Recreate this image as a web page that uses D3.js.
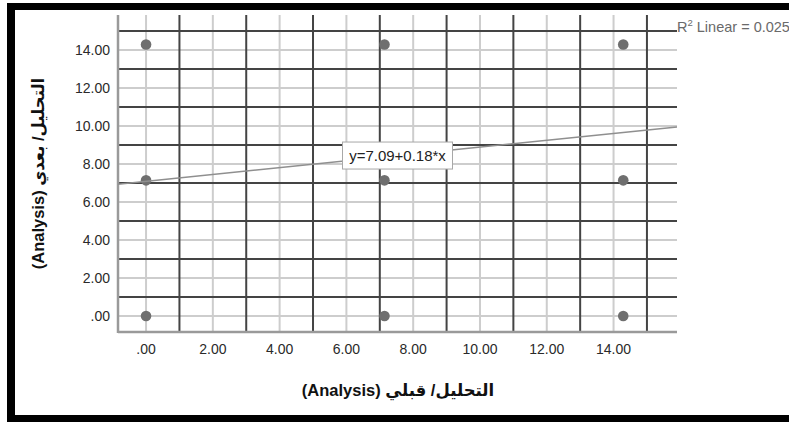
<!DOCTYPE html>
<html>
<head>
<meta charset="utf-8">
<script src="https://cdn.jsdelivr.net/npm/d3@7/dist/d3.min.js"></script>
<style>
  html, body { margin: 0; padding: 0; background: #fff; }
  svg { display: block; }
  text { font-family: "Liberation Sans", Arial, "DejaVu Sans", sans-serif; }
</style>
</head>
<body>
<svg id="chart" width="789" height="422"></svg>
<script>
// Scores before (x) and after (y) the analysis unit
const beforeScores = [0, 7.14, 14.29, 0, 7.14, 14.29, 0, 7.14, 14.29];
const afterScores  = [14.29, 14.29, 14.29, 7.14, 7.14, 7.14, 0, 0, 0];

// Fitted linear model
const intercept = 7.09;
const slope = 0.18;
const rSquared = 0.025;

// Axis ticks (labelled) and the in-between grid values
const tickValues = [0, 2, 4, 6, 8, 10, 12, 14];
const oddGridValues = [1, 3, 5, 7, 9, 11, 13, 15];

const xTitle = "التحليل/ قبلي (Analysis)";
const yTitle = "التحليل/ بعدي (Analysis)";

const svg = d3.select("#chart");

const plot = { left: 118, right: 677, top: 15, bottom: 332 };

const x = d3.scaleLinear().domain([-0.84, 15.9]).range([plot.left, plot.right]);
const y = d3.scaleLinear().domain([-0.84, 15.84]).range([plot.bottom, plot.top]);

const fmt = v => { const s = d3.format(".2f")(v); return s.startsWith("0.") ? s.slice(1) : s; };

// Frame
svg.append("rect").attr("x", 7).attr("y", 3).attr("width", 782).attr("height", 7).attr("fill", "#000");
svg.append("rect").attr("x", 7).attr("y", 3).attr("width", 8).attr("height", 419).attr("fill", "#000");
svg.append("rect").attr("x", 7).attr("y", 415).attr("width", 782).attr("height", 7).attr("fill", "#000");

const g = svg.append("g");

// Light grid at labelled values
g.selectAll(".vlight").data(tickValues).join("line")
  .attr("x1", d => x(d)).attr("x2", d => x(d))
  .attr("y1", plot.top).attr("y2", plot.bottom)
  .attr("stroke", "#cdcdcd").attr("stroke-width", 2);
g.selectAll(".hlight").data(tickValues).join("line")
  .attr("y1", d => y(d)).attr("y2", d => y(d))
  .attr("x1", plot.left).attr("x2", plot.right)
  .attr("stroke", "#cdcdcd").attr("stroke-width", 2);

// Dark grid at odd values
g.selectAll(".vdark").data(oddGridValues).join("line")
  .attr("x1", d => x(d)).attr("x2", d => x(d))
  .attr("y1", plot.top).attr("y2", plot.bottom)
  .attr("stroke", "#444").attr("stroke-width", 2);
g.selectAll(".hdark").data(oddGridValues).join("line")
  .attr("y1", d => y(d)).attr("y2", d => y(d))
  .attr("x1", plot.left).attr("x2", plot.right)
  .attr("stroke", "#444").attr("stroke-width", 2);

// Axis lines
g.append("line").attr("x1", plot.left).attr("x2", plot.left)
  .attr("y1", plot.top).attr("y2", plot.bottom + 1)
  .attr("stroke", "#9a9a9a").attr("stroke-width", 2.5);
g.append("line").attr("x1", plot.left).attr("x2", plot.right)
  .attr("y1", plot.bottom).attr("y2", plot.bottom)
  .attr("stroke", "#9a9a9a").attr("stroke-width", 2.5);

// Tick labels
g.selectAll(".ytick").data(tickValues).join("text")
  .attr("x", 110).attr("y", d => y(d)).attr("dy", "0.36em")
  .attr("text-anchor", "end").attr("font-size", 14).attr("fill", "#2a2a2a")
  .text(fmt);
g.selectAll(".xtick").data(tickValues).join("text")
  .attr("x", d => x(d)).attr("y", 354)
  .attr("text-anchor", "middle").attr("font-size", 14).attr("fill", "#2a2a2a")
  .text(fmt);

// Points
const pts = beforeScores.map((b, i) => ({ b, a: afterScores[i] }));
g.selectAll(".pt").data(pts).join("circle")
  .attr("cx", d => x(d.b)).attr("cy", d => y(d.a)).attr("r", 5.3)
  .attr("fill", "#6f6f6f");

// Fit line across the plot
const [x0, x1] = x.domain();
const fit = v => intercept + slope * v;
g.append("line")
  .attr("x1", x(x0)).attr("y1", y(fit(x0)))
  .attr("x2", x(x1)).attr("y2", y(fit(x1)))
  .attr("stroke", "#8f8f8f").attr("stroke-width", 1.5);

// Equation label at plot centre, on the line
const xm = x.invert((plot.left + plot.right) / 2);
const eq = `y=${intercept.toFixed(2)}+${slope.toFixed(2)}*x`;
const lab = g.append("g").attr("transform", `translate(${x(xm)},${y(fit(xm))})`);
lab.append("rect").attr("x", -55).attr("y", -13.5).attr("width", 110).attr("height", 27)
  .attr("fill", "#fff").attr("stroke", "#a8a8a8").attr("stroke-width", 1);
lab.append("text").attr("text-anchor", "middle").attr("dy", "0.36em")
  .attr("font-size", 15).attr("fill", "#222").text(eq);

// R squared note
const r2 = svg.append("text").attr("x", 677).attr("y", 32).attr("font-size", 14.5).attr("fill", "#6a6a6a");
r2.append("tspan").text("R");
r2.append("tspan").attr("font-size", 9.5).attr("dy", -6).text("2");
r2.append("tspan").attr("dy", 6).text(` Linear = ${rSquared.toFixed(3)}`);

// Axis titles
svg.append("text").attr("x", 398).attr("y", 396)
  .attr("text-anchor", "middle").attr("direction", "rtl").attr("unicode-bidi", "embed")
  .attr("font-size", 16.5).attr("font-weight", "bold").attr("fill", "#111")
  .text(xTitle);
svg.append("text")
  .attr("transform", `translate(44,${(plot.top + plot.bottom) / 2}) rotate(-90)`)
  .attr("text-anchor", "middle").attr("direction", "rtl").attr("unicode-bidi", "embed")
  .attr("font-size", 16.5).attr("font-weight", "bold").attr("fill", "#111")
  .text(yTitle);
</script>
</body>
</html>
